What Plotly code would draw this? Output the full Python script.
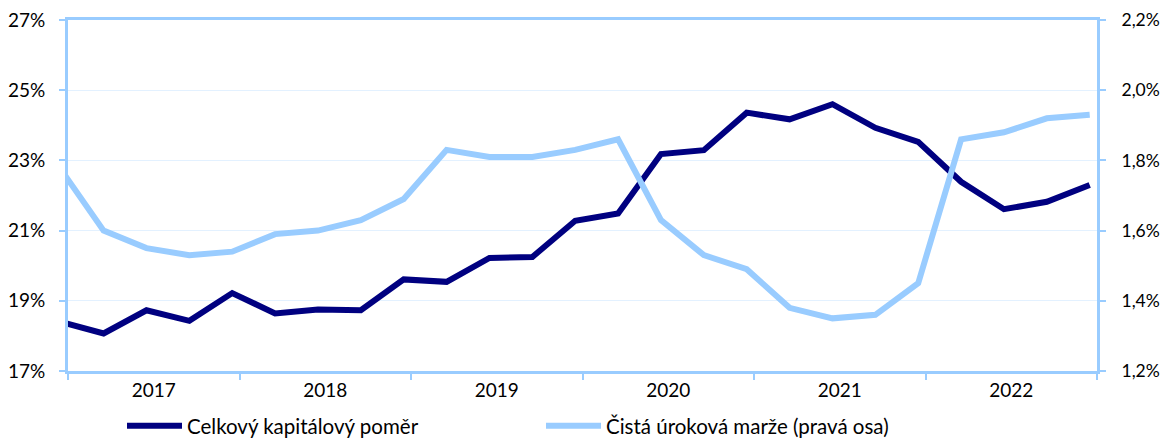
import numpy as np
import plotly.graph_objects as go

# Quarterly data (Q4 2016 .. Q4 2022)
capital_ratio = [18.40, 18.07, 18.73, 18.43, 19.22, 18.64, 18.75, 18.73,
                 19.61, 19.54, 20.22, 20.25, 21.28, 21.49, 23.18, 23.29,
                 24.36, 24.17, 24.60, 23.93, 23.53, 22.39, 21.61, 21.82, 22.30]
net_interest_margin = [1.775, 1.60, 1.55, 1.53, 1.54, 1.59, 1.60, 1.63,
                       1.69, 1.83, 1.81, 1.81, 1.83, 1.86, 1.63, 1.53,
                       1.49, 1.38, 1.35, 1.36, 1.45, 1.86, 1.88, 1.92, 1.93]
years = ["2017", "2018", "2019", "2020", "2021", "2022"]
name_capital = "Celkový kapitálový poměr"
name_nim = "Čistá úroková marže (pravá osa)"

# quarter positions: year boundaries at 0, 4, 8, ... ; points fall late in each quarter
quarter_offset = -0.17
xq = np.arange(len(capital_ratio)) + quarter_offset
year_centers = [4 * i + 2 for i in range(len(years))]
year_bounds = [4 * i for i in range(len(years) + 1)]

DARK = "#000080"
LIGHT = "#99CCFF"
AXIS = "#99CCFF"
GRID = "#E3F1FF"
FONT = "Lato"

W, H = 1161, 439

fig = go.Figure()
fig.add_trace(go.Scatter(x=xq, y=capital_ratio, mode="lines", name=name_capital,
                         line=dict(color=DARK, width=6), yaxis="y"))
fig.add_trace(go.Scatter(x=xq, y=net_interest_margin, mode="lines", name=name_nim,
                         line=dict(color=LIGHT, width=6), yaxis="y2"))

fig.update_layout(
    width=W, height=H,
    margin=dict(l=68, r=64, t=20, b=68, autoexpand=False),
    paper_bgcolor="white", plot_bgcolor="white",
    font=dict(family=FONT, size=19, color="#000000"),
    separators=", ",
    showlegend=True,
    legend=dict(orientation="h", xref="container", yref="container",
                x=122 / W, xanchor="left", y=13 / H, yanchor="middle",
                entrywidth=349, entrywidthmode="pixels",
                font=dict(family=FONT, size=20.5), bgcolor="rgba(0,0,0,0)",
                itemwidth=55),
    xaxis=dict(
        range=[0, 24], tickvals=year_centers, ticktext=years,
        ticks="", showgrid=False, zeroline=False, automargin=False,
        showline=True, linecolor=AXIS, linewidth=3, mirror=True,
        ticklabelstandoff=0, ticklabeloverflow="allow",
        minor=dict(tickvals=year_bounds, ticks="outside", ticklen=6,
                   tickcolor=AXIS, tickwidth=2, showgrid=False),
    ),
    yaxis=dict(
        range=[17, 27], dtick=2, tick0=17, ticksuffix="%", automargin=False,
        showgrid=True, gridcolor=GRID, gridwidth=1, zeroline=False,
        showline=True, linecolor=AXIS, linewidth=3,
        ticks="outside", ticklen=6, tickcolor=AXIS, tickwidth=2,
        ticklabelstandoff=10, ticklabeloverflow="allow",
    ),
    yaxis2=dict(
        range=[1.2, 2.2], dtick=0.2, tick0=1.2, tickformat=".1f", ticksuffix="%",
        overlaying="y", side="right", showgrid=False, zeroline=False, automargin=False,
        showline=True, linecolor=AXIS, linewidth=3,
        ticks="outside", ticklen=6, tickcolor=AXIS, tickwidth=2,
        tickfont=dict(family=FONT, size=17.5),
        ticklabelstandoff=12, ticklabeloverflow="allow",
    ),
)

# remove the default page margin so the 1161x439 figure fills the window exactly
fig.write_html("out.html", config={"displayModeBar": False},
               post_script="document.body.style.margin='0';document.body.style.overflow='hidden';")
